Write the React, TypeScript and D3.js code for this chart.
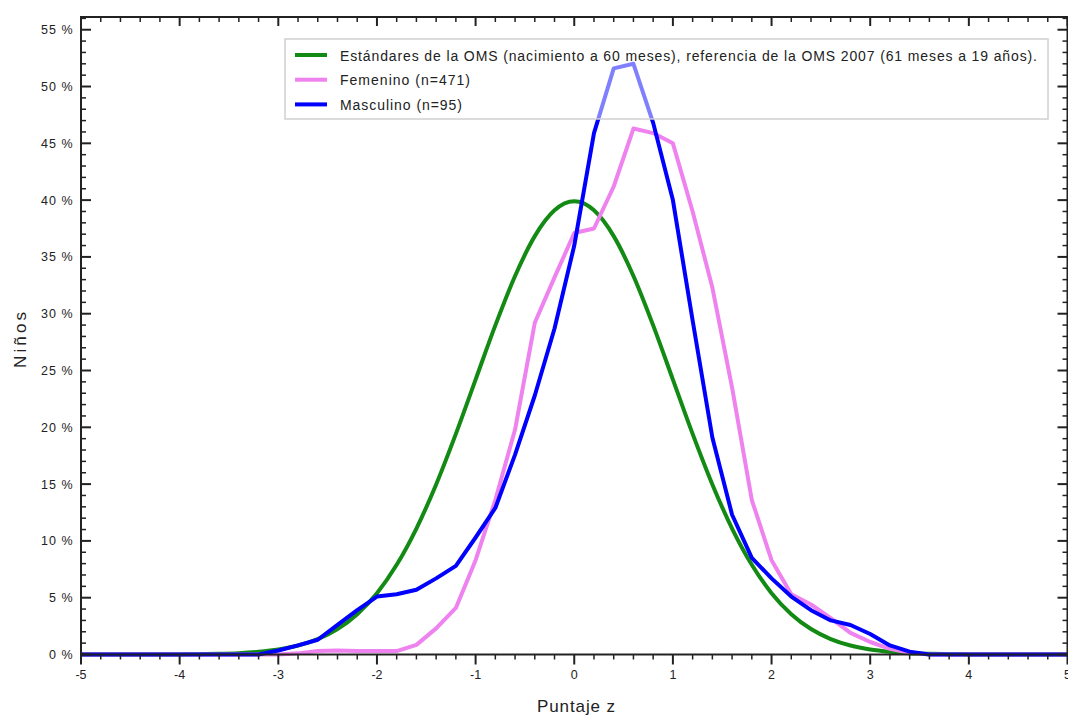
import React from "react";
import * as d3 from "d3";

const zValues: number[] = d3.range(-5, 5.0001, 0.2).map((v) => Math.round(v * 10) / 10);

// WHO standard (%), read at z = -5 .. 5 step 0.2
const whoValues: number[] = [
  0, 0, 0, 0, 0, 0.01, 0.03, 0.06, 0.12, 0.24,
  0.44, 0.79, 1.36, 2.24, 3.55, 5.4, 7.9, 11.09, 14.97, 19.42,
  24.2, 28.97, 33.32, 36.83, 39.1, 39.89, 39.1, 36.83, 33.32, 28.97,
  24.2, 19.42, 14.97, 11.09, 7.9, 5.4, 3.55, 2.24, 1.36, 0.79,
  0.44, 0.24, 0.12, 0.06, 0.03, 0.01, 0, 0, 0, 0, 0,
];

// Femenino (n=471), z = -5 .. 5 step 0.2
const femValues: number[] = [
  0, 0, 0, 0, 0, 0, 0, 0, 0, 0,
  0, 0.1, 0.3, 0.35, 0.3, 0.3, 0.3, 0.85, 2.3, 4.1,
  8.3, 13.6, 19.8, 29.2, 33.2, 37.1, 37.5, 41.2, 46.3, 45.9,
  45.0, 39.0, 32.3, 23.5, 13.6, 8.3, 5.3, 4.4, 3.2, 1.9,
  1.1, 0.5, 0.15, 0, 0, 0, 0, 0, 0, 0, 0,
];

// Masculino (n=95), z = -5 .. 5 step 0.2
const mascValues: number[] = [
  0, 0, 0, 0, 0, 0, 0, 0, 0, 0,
  0.35, 0.8, 1.3, 2.6, 3.9, 5.1, 5.3, 5.7, 6.7, 7.8,
  10.3, 12.9, 17.6, 22.8, 28.7, 36.0, 45.9, 51.6, 52.0, 46.8,
  40.0, 29.4, 19.1, 12.3, 8.5, 6.7, 5.1, 3.9, 3.0, 2.6,
  1.8, 0.8, 0.25, 0, 0, 0, 0, 0, 0, 0, 0,
];

const xTicks: number[] = [-5, -4, -3, -2, -1, 0, 1, 2, 3, 4, 5];
const yTicks: number[] = [0, 5, 10, 15, 20, 25, 30, 35, 40, 45, 50, 55];

const legendLabels: string[] = [
  "Estándares de la OMS (nacimiento a 60 meses), referencia de la OMS 2007 (61 meses a 19 años).",
  "Femenino (n=471)",
  "Masculino (n=95)",
];
const legendWidths: number[] = [697, 130, 122];
const seriesColors: string[] = ["#138a13", "#ee82ee", "#0000ff"];

const W = 1068;
const H = 715;
const left = 81;
const right = 1067.5;
const top = 17;
const bottom = 654.5;

export default function App() {
  const x = d3.scaleLinear().domain([-5, 5]).range([left, right]);
  const y = d3.scaleLinear().domain([0, 56.12]).range([bottom, top]);

  const line = d3
    .line<number>()
    .x((_, i) => x(zValues[i]))
    .y((d) => y(d));
  const smooth = d3
    .line<number>()
    .x((_, i) => x(zValues[i]))
    .y((d) => y(d))
    .curve(d3.curveMonotoneX);

  const series = [whoValues, femValues, mascValues];
  const xMinor = d3.range(-5, 5.0001, 0.2).filter((v) => Math.abs(Math.round(v) - v) > 1e-6);
  const yMinor = d3.range(0, 56.0001, 1).filter((v) => v % 5 !== 0);
  const font = "Liberation Sans, Arial, sans-serif";
  const axisColor = "#222";

  return (
    <svg
      width={W}
      height={H}
      style={{ position: "absolute", left: 0, top: 0, background: "#fff" }}
      fontFamily={font}
    >
      <rect x={0} y={0} width={W} height={H} fill="#fff" />
      {series.map((s, i) => (
        <path
          key={i}
          d={(i === 0 ? smooth(s) : line(s)) || ""}
          fill="none"
          stroke={seriesColors[i]}
          strokeWidth={4}
          strokeLinejoin="round"
        />
      ))}

      {/* frame */}
      <rect x={left} y={top} width={right - left} height={bottom - top} fill="none" stroke={axisColor} strokeWidth={2} />

      {/* bottom ticks (outward) & top ticks (inward) */}
      {xTicks.map((t) => (
        <g key={"xt" + t}>
          <line x1={x(t)} x2={x(t)} y1={bottom} y2={bottom + 10} stroke={axisColor} strokeWidth={2} />
          <line x1={x(t)} x2={x(t)} y1={top} y2={top + 9} stroke={axisColor} strokeWidth={2} />
          <text x={x(t)} y={bottom + 24} textAnchor="middle" fontSize={12.5} fill={axisColor}>
            {t}
          </text>
        </g>
      ))}
      {xMinor.map((t, i) => (
        <g key={"xm" + i}>
          <line x1={x(t)} x2={x(t)} y1={bottom} y2={bottom + 5} stroke={axisColor} strokeWidth={1.5} />
          <line x1={x(t)} x2={x(t)} y1={top} y2={top + 5} stroke={axisColor} strokeWidth={1.5} />
        </g>
      ))}

      {/* left & right ticks (inward) */}
      {yTicks.map((t) => (
        <g key={"yt" + t}>
          <line x1={left} x2={left + 10} y1={y(t)} y2={y(t)} stroke={axisColor} strokeWidth={2} />
          <line x1={right} x2={right - 10} y1={y(t)} y2={y(t)} stroke={axisColor} strokeWidth={2} />
          <text x={73.5} y={y(t) + 4.5} textAnchor="end" fontSize={12.5} letterSpacing={1} fill={axisColor}>
            {t + " %"}
          </text>
        </g>
      ))}
      {yMinor.map((t) => (
        <g key={"ym" + t}>
          <line x1={left} x2={left + 5} y1={y(t)} y2={y(t)} stroke={axisColor} strokeWidth={1.5} />
          <line x1={right} x2={right - 5} y1={y(t)} y2={y(t)} stroke={axisColor} strokeWidth={1.5} />
        </g>
      ))}

      {/* axis titles */}
      <text x={537} y={711.5} fontSize={17} textLength={78} lengthAdjust="spacing" fill={axisColor}>
        Puntaje z
      </text>
      <text
        transform={`translate(25.5, 368) rotate(-90)`}
        fontSize={17}
        textLength={56}
        lengthAdjust="spacing"
        fill={axisColor}
      >
        Niños
      </text>

      {/* legend */}
      <rect x={285} y={39} width={763} height={80} fill="#fff" fillOpacity={0.5} stroke="#d0d0d0" strokeWidth={1.5} />
      {legendLabels.map((lab, i) => (
        <g key={"lg" + i}>
          <line x1={295} x2={327} y1={55 + i * 24.7} y2={55 + i * 24.7} stroke={seriesColors[i]} strokeWidth={4} />
          <text
            x={340}
            y={55 + i * 24.7 + 5.5}
            fontSize={14}
            textLength={legendWidths[i]}
            lengthAdjust="spacing"
            fill={axisColor}
          >
            {lab}
          </text>
        </g>
      ))}
    </svg>
  );
}
